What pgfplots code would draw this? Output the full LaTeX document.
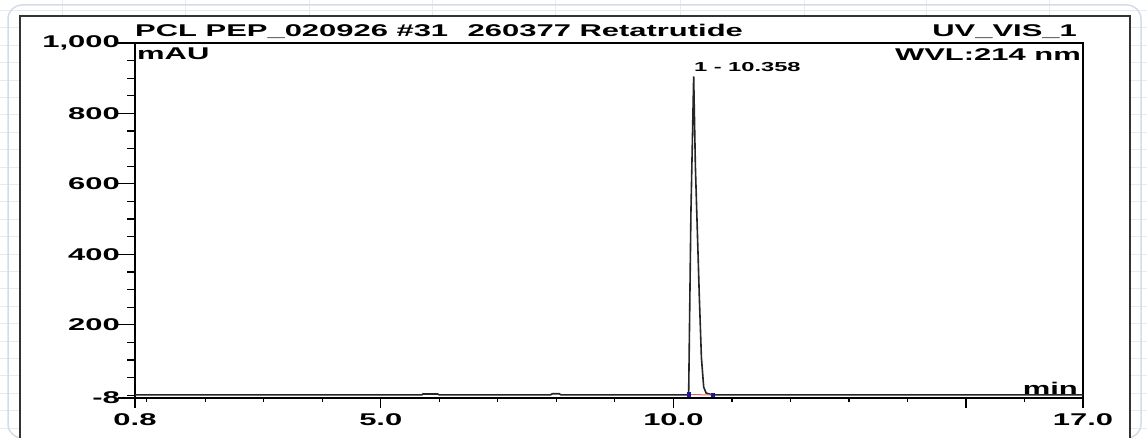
\documentclass[border=0pt]{standalone}
\usepackage{fontspec}
\usepackage{pgfplots}
\pgfplotsset{compat=1.18}
\newfontfamily\cf{Liberation Sans}[FakeStretch=1.82]
\newcommand\tfnt{\cf\bfseries\fontsize{17}{17}\selectfont}
\newcommand\sfnt{\cf\bfseries\fontsize{13}{13}\selectfont}
\definecolor{gridc}{HTML}{E6EBF2}
\definecolor{cardc}{HTML}{D3DCE8}
\definecolor{framec}{HTML}{333333}
\definecolor{intred}{HTML}{E06060}
\definecolor{intblue}{HTML}{1A1AA0}
\begin{document}
\begin{tikzpicture}
\useasboundingbox (0pt,0pt) rectangle (1147pt,437pt);
\fill[white] (0pt,0pt) rectangle (1147pt,437pt);
\foreach \yy in {9,26.4,...,437} \draw[gridc, line width=0.8pt] (0pt,\yy pt) -- (1147pt,\yy pt);
\foreach \xx in {62,185,309,432,555,680,804,926,1049} \draw[gridc, line width=0.8pt] (\xx pt,0pt) -- (\xx pt,437pt);
\draw[cardc, line width=1.5pt, rounded corners=14pt] (8pt,-1pt) rectangle (1141pt,432pt);
\fill[white] (20pt,-5pt) rectangle (1130pt,421pt);
\draw[framec, line width=1.6pt] (20pt,-5pt) -- (20pt,421pt) -- (1130pt,421pt) -- (1130pt,-5pt);
\begin{axis}[
  at={(135pt,39pt)}, anchor=south west, scale only axis,
  width=948pt, height=355pt,
  xmin=0.8, xmax=17, ymin=-8, ymax=1000,
  axis line style={black, line width=1.3pt},
  tick align=outside, xtick pos=lower, ytick pos=left,
  tick style={black, line width=1.2pt},
  major tick length=10pt, minor tick length=4pt,
  ytick style={/pgfplots/major tick length=17pt, /pgfplots/minor tick length=8pt},
  xtick={0.8,5,10,15,17}, xticklabels={0.8,5.0,10.0,,17.0},
  minor xtick={1,2,3,4,6,7,8,9,11,12,13,14,16},
  ytick={-8,200,400,600,800,1000}, yticklabels={-8,200,400,600,800,{1,000}},
  minor ytick={0,50,100,150,250,300,350,450,500,550,650,700,750,850,900,950},
  /pgf/number format/assume math mode=true,
  tick label style={font=\tfnt},
  x tick label style={anchor=north, inner sep=0pt, yshift=-5pt},
  y tick label style={anchor=east, inner sep=0pt, xshift=-5pt},
  clip=false,
]
\addplot[black!85, line width=1.6pt] coordinates {
(0.8,0.8) (5.70,0.8) (5.72,3.5) (5.97,3.5) (6.0,0.8) (7.90,0.8) (7.93,4) (8.05,4) (8.08,0.8)
(10.255,0.8) (10.262,14) (10.300,520) (10.347,905) (10.376,650) (10.444,276)
(10.479,107) (10.518,23) (10.56,6) (10.667,1) (12.3,0.8) (17,0.8)
};
\addplot[intred, line width=1pt] coordinates {(10.262,2) (10.667,0.5)};
\addplot[only marks, mark=square*, mark size=1.6pt, intblue] coordinates {(10.262,3) (10.667,0.8)};
\node[anchor=base west, inner sep=0pt, yshift=6pt] at (rel axis cs:0,1) {\tfnt PCL PEP\_020926 \#31\hspace{1.15em}260377 Retatrutide};
\node[anchor=base east, inner sep=0pt, xshift=-6pt, yshift=6pt] at (rel axis cs:1,1) {\tfnt UV\_VIS\_1};
\node[anchor=base west, inner sep=0pt, xshift=2pt, yshift=-17pt] at (rel axis cs:0,1) {\tfnt mAU};
\node[anchor=base east, inner sep=0pt, xshift=-2pt, yshift=-18pt] at (rel axis cs:1,1) {\tfnt WVL:214 nm};
\node[anchor=base east, inner sep=0pt, xshift=-5pt, yshift=3.5pt] at (rel axis cs:1,0) {\tfnt min};
\node[anchor=base west, inner sep=0pt, yshift=5pt] at (axis cs:10.35,905) {\sfnt 1 - 10.358};
\end{axis}
\end{tikzpicture}
\end{document}
